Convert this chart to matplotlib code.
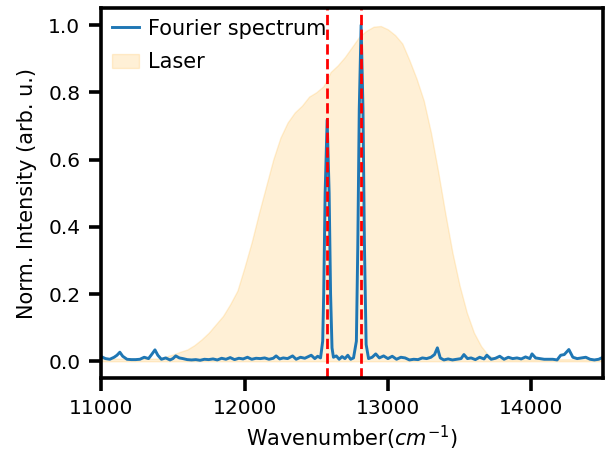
import numpy as np
import matplotlib.pyplot as plt

# Fourier spectrum
wn_fourier = [11000, 11030, 11060, 11090, 11110, 11130, 11150, 11180, 11210, 11240,
              11270, 11300, 11330, 11355, 11375, 11395, 11420, 11450, 11480, 11500,
              11520, 11545, 11570, 11600, 11630, 11660, 11690, 11720, 11750, 11780,
              11810, 11840, 11870, 11900, 11930, 11960, 11990, 12020, 12050, 12080,
              12110, 12140, 12170, 12200, 12220, 12245, 12270, 12300, 12335, 12360,
              12390, 12420, 12445, 12465, 12490, 12510, 12530, 12545, 12552, 12562,
              12576, 12590, 12600, 12610, 12620, 12640, 12660, 12680, 12700, 12720,
              12740, 12760, 12780, 12790, 12800, 12813, 12826, 12836, 12848, 12865,
              12890, 12915, 12940, 12970, 13000, 13030, 13060, 13090, 13120, 13150,
              13180, 13210, 13240, 13270, 13300, 13325, 13345, 13365, 13390, 13420,
              13450, 13480, 13510, 13530, 13555, 13580, 13610, 13640, 13670, 13690,
              13720, 13750, 13780, 13810, 13840, 13870, 13900, 13930, 13960, 13990,
              14005, 14030, 14060, 14090, 14120, 14150, 14180, 14205, 14230, 14262,
              14290, 14320, 14350, 14380, 14410, 14440, 14470, 14500]
fourier = [0.014, 0.008, 0.006, 0.012, 0.018, 0.027, 0.015, 0.006, 0.005, 0.005,
           0.006, 0.012, 0.008, 0.022, 0.034, 0.018, 0.006, 0.010, 0.004, 0.008,
           0.016, 0.010, 0.008, 0.005, 0.004, 0.005, 0.003, 0.006, 0.005, 0.007,
           0.004, 0.009, 0.006, 0.011, 0.005, 0.009, 0.007, 0.012, 0.006, 0.009,
           0.008, 0.010, 0.006, 0.009, 0.016, 0.007, 0.010, 0.008, 0.016, 0.006,
           0.012, 0.009, 0.014, 0.018, 0.008, 0.015, 0.010, 0.060, 0.200, 0.500,
           0.718, 0.500, 0.200, 0.040, 0.012, 0.016, 0.006, 0.014, 0.008, 0.018,
           0.006, 0.010, 0.060, 0.350, 0.750, 1.000, 0.750, 0.350, 0.050, 0.008,
           0.012, 0.022, 0.010, 0.016, 0.008, 0.015, 0.006, 0.012, 0.010, 0.004,
           0.006, 0.005, 0.010, 0.008, 0.012, 0.020, 0.040, 0.010, 0.004, 0.007,
           0.004, 0.006, 0.008, 0.020, 0.008, 0.010, 0.005, 0.012, 0.007, 0.018,
           0.006, 0.009, 0.015, 0.006, 0.012, 0.008, 0.010, 0.007, 0.013, 0.008,
           0.022, 0.010, 0.008, 0.006, 0.006, 0.006, 0.004, 0.018, 0.020, 0.035,
           0.012, 0.008, 0.010, 0.012, 0.006, 0.004, 0.006, 0.012]

# laser spectrum
wn_laser = [11000, 11400, 11500, 11550, 11600, 11650, 11700, 11750, 11800, 11850,
            11900, 11950, 12000, 12050, 12100, 12150, 12200, 12250, 12300, 12350,
            12400, 12450, 12500, 12550, 12600, 12650, 12700, 12750, 12800, 12850,
            12900, 12950, 13000, 13050, 13100, 13150, 13200, 13250, 13300, 13350,
            13400, 13450, 13500, 13550, 13600, 13650, 13700, 13750, 13800, 14500]
laser = [0.008, 0.008, 0.02, 0.028, 0.035, 0.048, 0.065, 0.085, 0.11, 0.135,
         0.17, 0.21, 0.28, 0.355, 0.44, 0.52, 0.60, 0.665, 0.71, 0.74,
         0.76, 0.787, 0.80, 0.818, 0.86, 0.88, 0.905, 0.935, 0.965, 0.983,
         0.995, 0.997, 0.987, 0.97, 0.945, 0.895, 0.84, 0.775, 0.68, 0.565,
         0.44, 0.323, 0.225, 0.145, 0.085, 0.045, 0.018, 0.008, 0.006, 0.006]

lines_wn = [12578, 12812]

fig = plt.figure(figsize=(6.06, 4.55), dpi=100)
ax = fig.add_axes([0.167, 0.169, 0.828, 0.813])

ax.plot(wn_fourier, fourier, color='C0', lw=2.1, label='Fourier spectrum')
ax.fill_between(wn_laser, laser, color='orange', alpha=0.16, label='Laser')
for x in lines_wn:
    ax.axvline(x, color='red', ls='--', lw=2.0)

ax.set_xlim(11000, 14500)
ax.set_ylim(-0.05, 1.05)
ax.set_xticks([11000, 12000, 13000, 14000])
ax.set_yticks([0.0, 0.2, 0.4, 0.6, 0.8, 1.0])
ax.set_xlabel('Wavenumber($cm^{-1}$)', fontsize=15, labelpad=4)
ax.set_ylabel('Norm. Intensity (arb. u.)', fontsize=15, labelpad=8)
ax.tick_params(width=2.6, length=9, labelsize=14.5, pad=6)
for s in ax.spines.values():
    s.set_linewidth(2.6)
ax.legend(loc='upper left', frameon=False, fontsize=15,
          borderaxespad=0.2, handlelength=1.3, handletextpad=0.45, labelspacing=0.65,
          borderpad=0.3)

fig.savefig('out.png', dpi=100)
